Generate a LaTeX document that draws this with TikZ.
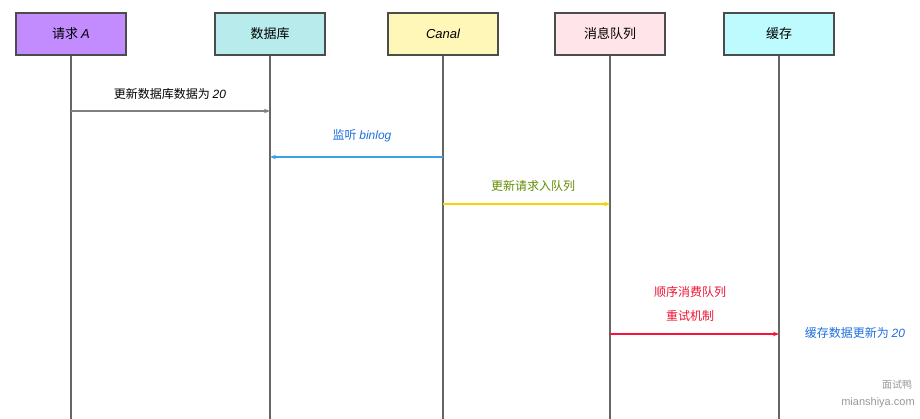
\documentclass[tikz,border=0pt]{standalone}
\usepackage{fontspec}
\setmainfont{Noto Sans CJK SC}
\newfontfamily\lat{Liberation Sans}
\newcommand{\li}[1]{{\lat\itshape #1}}
\usetikzlibrary{arrows.meta}
\definecolor{cA}{HTML}{C28CFF}
\definecolor{cB}{HTML}{B8ECEC}
\definecolor{cC}{HTML}{FFF7B8}
\definecolor{cD}{HTML}{FFE4EA}
\definecolor{cE}{HTML}{BDFBFF}
\definecolor{lbl}{HTML}{1E6FE0}
\begin{document}
\begin{tikzpicture}[x=1pt,y=-1pt,
 actor/.style={draw=black!70,line width=1.3pt,minimum width=110pt,minimum height=42pt,font=\fontsize{13}{15}\selectfont},
 life/.style={draw=black!60,line width=1.2pt},
 msg/.style={line width=1.3pt,-{Stealth[length=6pt]}},
 txt/.style={font=\fontsize{12}{14}\selectfont}]
\useasboundingbox (0,0) rectangle (920,419);
\fill[white] (0,0) rectangle (920,419);
\node[actor,fill=cA] (a) at (71,34) {请求 \li{A}};
\node[actor,fill=cB] (b) at (270,34) {数据库};
\node[actor,fill=cC] (c) at (443,34) {\li{Canal}};
\node[actor,fill=cD] (d) at (610,34) {消息队列};
\node[actor,fill=cE] (e) at (779,34) {缓存};
\foreach \n/\x in {a/71,b/270,c/443,d/610,e/779}{
 \coordinate (\n end) at (\x,419);
 \draw[life] (\n.south) -- (\n end);
 \coordinate (\n1) at (\x,111);
 \coordinate (\n2) at (\x,157);
 \coordinate (\n3) at (\x,204);
 \coordinate (\n4) at (\x,334);
}
\draw[msg,draw=black!50] (a1) -- (b1);
\node[txt] (t1) at (170,94) {更新数据库数据为 \li{20}};
\draw[msg,draw={rgb,255:red,60;green,160;blue,230}] (c2) -- (b2);
\node[txt,text=lbl] (t2) at (362,136) {监听 \li{binlog}};
\draw[msg,draw={rgb,255:red,250;green,210;blue,0}] (c3) -- (d3);
\node[txt,text={rgb,255:red,100;green,140;blue,0}] (t3) at (533,186) {更新请求入队列};
\draw[msg,draw={rgb,255:red,245;green,20;blue,60}] (d4) -- (e4);
\node[txt,text={rgb,255:red,240;green,20;blue,50}] (t4) at (690,292) {顺序消费队列};
\node[txt,text={rgb,255:red,240;green,20;blue,50}] (t5) at (690,316) {重试机制};
\node[txt,text=lbl] (t6) at (855,333) {缓存数据更新为 \li{20}};
\node[font=\fontsize{10}{11}\selectfont,text=black!40] (w1) at (897,385) {面试鸭};
\node[font=\lat\fontsize{11}{12}\selectfont,text=black!40] (w2) at (878,403) {mianshiya.com};
\end{tikzpicture}
\end{document}
